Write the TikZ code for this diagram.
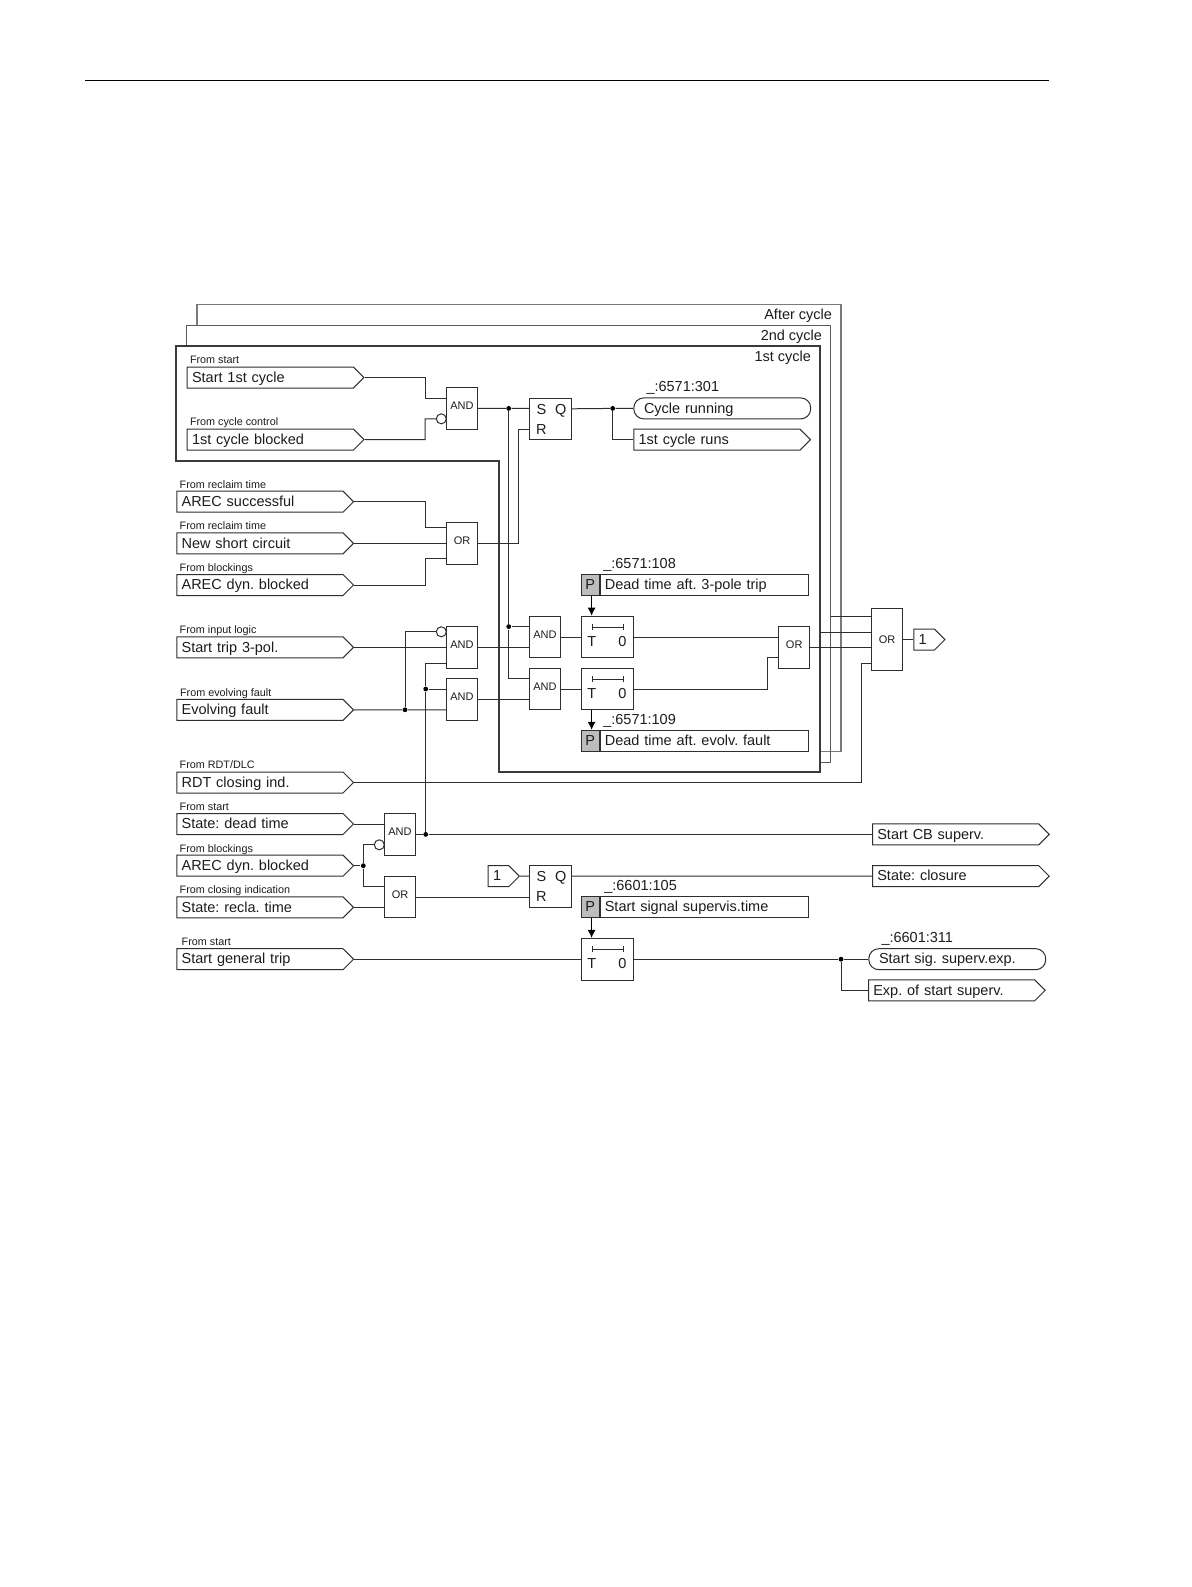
\documentclass[tikz,border=0pt]{standalone}
\usepackage{fontspec}
\setmainfont{Liberation Sans}
\usepackage{xcolor}
\usetikzlibrary{arrows.meta,positioning,shapes.symbols}
\definecolor{wire}{HTML}{2E2E2E}
\definecolor{inktext}{HTML}{1C1C1C}
\definecolor{frameout}{HTML}{7A7A7A}
\definecolor{framemid}{HTML}{5A5A5A}
\definecolor{framein}{HTML}{3A3A3A}
\definecolor{parfill}{HTML}{BDBDBD}
\frenchspacing

\begin{document}
\begin{tikzpicture}[x=1pt,y=-1pt,>=Latex,line width=1pt,color=wire,text=inktext]
      \tikzstyle{sigbox}=[draw,shape=signal,signal to=east,signal pointer angle=90,anchor=west,text width=156.6pt,inner xsep=4.8pt,inner ysep=0pt,minimum height=21pt,text height=9.5pt,text depth=0pt,align=left,font=\fontsize{14.5}{16}\selectfont]
      \tikzstyle{onebox}=[sigbox,text width=11pt]
      \tikzstyle{holdbox}=[draw,rounded corners=10pt,anchor=west,minimum height=21pt,text height=9.5pt,text depth=0pt,text width=156.5pt,inner xsep=10.2pt,inner ysep=0pt,align=left,font=\fontsize{14.5}{16}\selectfont]
      \tikzstyle{gatebox}=[draw,minimum width=31.4pt,minimum height=41.6pt,inner sep=0pt,text height=9pt,text depth=7pt,font=\fontsize{11}{12}\selectfont]
      \tikzstyle{srbox}=[draw,minimum width=41.7pt,minimum height=41.6pt,inner sep=0pt]
      \tikzstyle{timerbox}=[draw,minimum width=52pt,minimum height=41.6pt,inner sep=0pt]
      \tikzstyle{parbox}=[draw,fill=parfill,minimum width=18pt,minimum height=21pt,inner sep=0pt,text height=9.5pt,text depth=0pt,font=\fontsize{14.5}{16}\selectfont]
      \tikzstyle{partext}=[draw,minimum width=207.7pt,minimum height=21pt,inner xsep=4.5pt,inner ysep=0pt,text width=198.7pt,text height=9.5pt,text depth=0pt,align=left,font=\fontsize{14.5}{16}\selectfont]
      \tikzstyle{pintext}=[inner sep=0pt,text height=10.4pt,text depth=0pt,font=\fontsize{14.5}{16}\selectfont]
      \tikzstyle{fromtext}=[inner sep=0pt,text depth=0pt,font=\fontsize{10.8}{12}\selectfont]
      \tikzstyle{tagtext}=[inner sep=0pt,text depth=0pt,font=\fontsize{14.5}{16}\selectfont]
      \tikzstyle{cycletext}=[inner sep=0pt,anchor=east,font=\fontsize{14.5}{16}\selectfont]
      \tikzstyle{junction}=[circle,fill=black,draw=none,minimum size=4.8pt,inner sep=0pt]
      \tikzstyle{invert}=[circle,draw,fill=white,minimum size=10pt,inner sep=0pt]
      \tikzstyle{partip}=[-{Latex[length=8pt,width=8pt,fill=black]},draw=black]
      \useasboundingbox (0,0) rectangle (1191,1587);

      \draw[draw=black,line width=1.3pt] (85,80.3) -- (1049,80.3);

      \draw[draw=frameout,line width=1.3pt] (197,325.3) |- (841,304.3) |- (820,751.7);
      \draw[draw=framemid,line width=1pt] (186.7,346) |- (830.7,325.3) |- (820,762);
      \draw[draw=framein,line width=2.3pt] (176.3,346) -- (820,346) -- (820,772) -- (498.7,772) -- (498.7,460.7) -- (176.3,460.7) -- cycle;
      \node[cycletext] (aftertext) at (832.5,316) {After cycle};
      \node[cycletext] (secondtext) at (822.5,337) {2nd cycle};
      \node[cycletext] (firsttext) at (811.5,358) {1st cycle};

      \node[sigbox] (start1) at (186.7,377.5) {Start 1st cycle};
      \node[sigbox] (blocked1) at (186.7,439.6) {1st cycle blocked};
      \node[sigbox] (arecok) at (176.3,501.7) {AREC successful};
      \node[sigbox] (newshort) at (176.3,543.3) {New short circuit};
      \node[sigbox] (arecdyn) at (176.3,585) {AREC dyn. blocked};
      \node[sigbox] (tripin) at (176.3,647.4) {Start trip 3-pol.};
      \node[sigbox] (evolving) at (176.3,709.8) {Evolving fault};
      \node[sigbox] (rdt) at (176.3,782.5) {RDT closing ind.};
      \node[sigbox] (deadin) at (176.3,824) {State: dead time};
      \node[sigbox] (arecdyntwo) at (176.3,865.7) {AREC dyn. blocked};
      \node[sigbox] (recla) at (176.3,907.4) {State: recla. time};
      \node[sigbox] (general) at (176.3,959.2) {Start general trip};

      \node[fromtext,above right=2.2pt and 2.8pt of start1.north west] (from1) {From start};
      \node[fromtext,above right=2.2pt and 2.8pt of blocked1.north west] (from2) {From cycle control};
      \node[fromtext,above right=2.2pt and 2.9pt of arecok.north west] (from3) {From reclaim time};
      \node[fromtext,above right=2.2pt and 2.9pt of newshort.north west] (from4) {From reclaim time};
      \node[fromtext,above right=2.2pt and 2.9pt of arecdyn.north west] (from5) {From blockings};
      \node[fromtext,above right=2.2pt and 2.9pt of tripin.north west] (from6) {From input logic};
      \node[fromtext,above right=2.2pt and 3.3pt of evolving.north west] (from7) {From evolving fault};
      \node[fromtext,above right=2.2pt and 2.9pt of rdt.north west] (from8) {From RDT/DLC};
      \node[fromtext,above right=2.2pt and 2.9pt of deadin.north west] (from9) {From start};
      \node[fromtext,above right=2.2pt and 2.9pt of arecdyntwo.north west] (from10) {From blockings};
      \node[fromtext,above right=2.2pt and 2.9pt of recla.north west] (from11) {From closing indication};
      \node[fromtext,above right=2.2pt and 4.9pt of general.north west] (from12) {From start};

      \node[gatebox] (and1) at (462,408.4) {AND};
      \node[gatebox] (or1) at (462,543.3) {OR};
      \node[gatebox] (and2) at (462,647.4) {AND};
      \node[gatebox] (and3) at (462,699.4) {AND};
      \node[gatebox] (and4) at (545,637) {AND};
      \node[gatebox] (and5) at (545,689) {AND};
      \node[gatebox] (or2) at (794.2,647.4) {OR};
      \node[gatebox,minimum height=62.6pt,text height=8pt,text depth=0pt] (or3) at (887,639.6) {OR};
      \node[gatebox] (and6) at (400,834.4) {AND};
      \node[gatebox] (or4) at (400,897) {OR};

      \node[srbox] (sr1) at (550.2,418.8) {};
      \node[srbox] (sr2) at (550.2,886.6) {};
      \foreach \g in {sr1,sr2} {
        \node[pintext] (\g-S) at ([xshift=-8.8pt,yshift=10pt]\g.center) {S};
        \node[pintext] (\g-Q) at ([xshift=10.5pt,yshift=10pt]\g.center) {Q};
        \node[pintext] (\g-R) at ([xshift=-8.8pt,yshift=-10pt]\g.center) {R};
      }

      \node[timerbox] (timer1) at (607.3,637) {};
      \node[timerbox] (timer2) at (607.3,689) {};
      \node[timerbox] (timer3) at (607.3,959.2) {};
      \foreach \g in {timer1,timer2,timer3} {
        \node[pintext] (\g-T) at ([xshift=-15.6pt,yshift=-4pt]\g.center) {T};
        \node[pintext] (\g-0) at ([xshift=15pt,yshift=-4pt]\g.center) {0};
        \draw[{Bar[width=6pt,length=0.8pt]}-{Bar[width=6pt,length=0.8pt]},line width=0.8pt] ([xshift=-15.6pt,yshift=10pt]\g.center) -- ([xshift=16.7pt,yshift=10pt]\g.center);
      }

      \node[parbox] (par1) at (590.3,585) {P};
      \node[partext,right=0pt of par1] (par1t) {Dead time aft. 3-pole trip};
      \node[parbox] (par2) at (590.3,740.8) {P};
      \node[partext,right=0pt of par2] (par2t) {Dead time aft. evolv. fault};
      \node[parbox] (par3) at (590.3,907.2) {P};
      \node[partext,right=0pt of par3] (par3t) {Start signal supervis.time};
      \node[tagtext,above right=5pt and 22pt of par1.north west] (tag1) {\_:6571:108};
      \node[tagtext,above right=5pt and 22pt of par2.north west] (tag2) {\_:6571:109};
      \node[tagtext,above right=5pt and 23pt of par3.north west] (tag3) {\_:6601:105};

      \node[holdbox] (cycrun) at (633.3,408.4) {Cycle running};
      \node[sigbox] (cycruns) at (633.3,439.6) {1st cycle runs};
      \node[sigbox] (startcb) at (872,834.4) {Start CB superv.};
      \node[sigbox] (closure) at (872,876.2) {State: closure};
      \node[holdbox] (sigexp) at (868.3,959.2) {Start sig. superv.exp.};
      \node[sigbox] (expstart) at (868,990.3) {Exp. of start superv.};
      \node[onebox] (one1) at (913.3,639.6) {1};
      \node[onebox] (one2) at (487.7,876.2) {1};
      \node[tagtext,above right=5pt and 12.7pt of cycrun.north west] (tag4) {\_:6571:301};
      \node[tagtext,above right=5pt and 12.7pt of sigexp.north west] (tag5) {\_:6601:311};

      \node[invert] (inv1) at (441.3,418.8) {};
      \node[invert] (inv2) at (441.3,631.8) {};
      \node[invert] (inv3) at (379.3,844.8) {};

      \node[junction] (dot1) at (508.7,408.4) {};
      \node[junction] (dot2) at (612.7,408.4) {};
      \node[junction] (dot3) at (508.7,626.6) {};
      \node[junction] (dot4) at (405,709.8) {};
      \node[junction] (dot5) at (425.7,689) {};
      \node[junction] (dot6) at (425.7,834.4) {};
      \node[junction] (dot7) at (363.3,865.7) {};
      \node[junction] (dot8) at (841,959.2) {};

      \draw (start1.east) -| ([xshift=-20.6pt,yshift=10.4pt]and1.west) -- ([yshift=10.4pt]and1.west);
      \draw (blocked1.east) -| ([xshift=-20.6pt,yshift=-10.4pt]and1.west) -- (inv1.west);
      \draw (and1.east) -- (dot1) -- ([yshift=10.4pt]sr1.west);
      \draw (sr1-Q.east -| sr1.east) -- (dot2) -- (cycrun.west);
      \draw (dot2) |- (cycruns.west);

      \draw (arecok.east) -| ([xshift=-20.6pt,yshift=15.6pt]or1.west) -- ([yshift=15.6pt]or1.west);
      \draw (newshort.east) -- (or1.west);
      \draw (arecdyn.east) -| ([xshift=-20.6pt,yshift=-15.6pt]or1.west) -- ([yshift=-15.6pt]or1.west);
      \draw (or1.east) -| ([xshift=-10.3pt,yshift=-10.4pt]sr1.west) -- ([yshift=-10.4pt]sr1.west);

      \draw (dot1) -- (dot3) |- ([yshift=10.4pt]and5.west);
      \draw (dot3) -- ([yshift=10.4pt]and4.west);
      \draw (tripin.east) -- (and2.west);
      \draw (evolving.east) -- (dot4) -- ([yshift=-10.4pt]and3.west);
      \draw (dot4) |- (inv2.west);
      \draw (dot6) -- (dot5) |- ([yshift=-15.6pt]and2.west);
      \draw (dot5) -- ([yshift=10.4pt]and3.west);
      \draw (and2.east) -- ([yshift=-10.4pt]and4.west);
      \draw (and3.east) -- ([yshift=-10.4pt]and5.west);
      \draw (and4.east) -- (timer1.west);
      \draw (and5.east) -- (timer2.west);
      \draw (timer1.east) -- ([yshift=10.4pt]or2.west);
      \draw (timer2.east) -| ([xshift=-10.4pt,yshift=-10.4pt]or2.west) -- ([yshift=-10.4pt]or2.west);
      \draw[partip] ([xshift=1.3pt]par1.south) -- ([xshift=1.3pt]par1.south |- timer1.north);
      \draw[partip] ([xshift=1.3pt]par2.north |- timer2.south) -- ([xshift=1.3pt]par2.north);

      \coordinate (frame2) at (830.7,616.3);
      \coordinate (frame1) at (820,632);
      \draw (frame2) -- (frame2 -| or3.west);
      \draw (frame1) -- (frame1 -| or3.west);
      \draw (or2.east) -- (or2.east -| or3.west);
      \draw (rdt.east) -| ([xshift=-9.6pt,yshift=-23.4pt]or3.west) -- ([yshift=-23.4pt]or3.west);
      \draw (or3.east) -- (one1.west);

      \draw (deadin.east) -- (deadin.east -| and6.west);
      \draw (arecdyntwo.east) -- (dot7) |- (inv3.west);
      \draw (dot7) |- ([yshift=10.4pt]or4.west);
      \draw (recla.east) -- (recla.east -| or4.west);
      \draw (and6.east) -- (dot6) -- (startcb.west);
      \draw (or4.east) -- ([yshift=-10.4pt]sr2.west);
      \draw (one2.east) -- ([yshift=10.4pt]sr2.west);
      \draw ([yshift=10.4pt]sr2.east) -- (closure.west);

      \draw (general.east) -- (timer3.west);
      \draw[partip] ([xshift=1.3pt]par3.south) -- ([xshift=1.3pt]par3.south |- timer3.north);
      \draw (timer3.east) -- (dot8) -- (sigexp.west);
      \draw (dot8) |- (expstart.west);
    \end{tikzpicture}
\end{document}
